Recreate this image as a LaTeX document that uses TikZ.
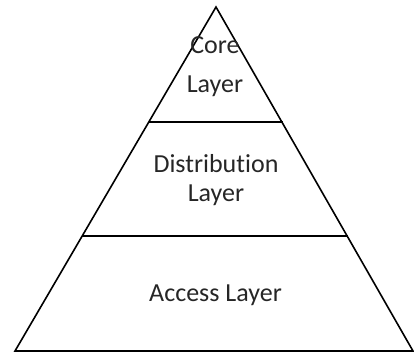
\documentclass[tikz,border=0pt]{standalone}
\usepackage{fontspec}
\setmainfont[Ligatures=NoCommon]{Carlito}
\begin{document}
\begin{tikzpicture}[x=1pt,y=-1pt,
  edge/.style={line width=1.6pt, line join=miter},
  label/.style={font=\fontsize{26}{30}\selectfont, text=black!85, anchor=base, inner sep=0pt}]
  \useasboundingbox (0,0) rectangle (414,353);
  % pyramid outline
  \coordinate (apex) at (216,7);
  \coordinate (bl) at (15,351);
  \coordinate (br) at (413,351);
  \draw[edge] (bl) -- (apex) -- (br) -- cycle;
  % tier dividers
  \coordinate (d1l) at (149,122);
  \coordinate (d1r) at (282.5,122);
  \coordinate (d2l) at (82,236);
  \coordinate (d2r) at (347.5,236);
  \draw[edge] (d1l) -- (d1r);
  \draw[edge] (d2l) -- (d2r);
  % tier labels
  \node[label] (core) at (215,53) {Core};
  \node[label] (corel) at (215,92) {Layer};
  \node[label] (dist) at (216,172.5) {Distribution};
  \node[label] (distl) at (216,201.5) {Layer};
  \node[label] (acc) at (215.5,301.5) {Access Layer};
\end{tikzpicture}
\end{document}
